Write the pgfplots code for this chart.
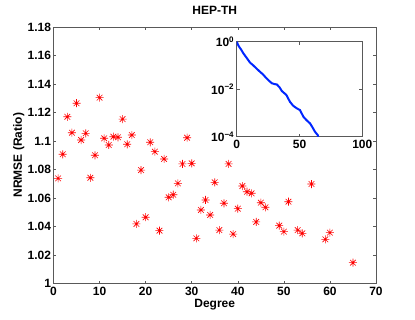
\documentclass[border=0pt]{standalone}
\usepackage{fontspec}
\setmainfont{Liberation Sans}
\usepackage{pgfplots}
\pgfplotsset{compat=1.18}
\pgfdeclareplotmark{mstar}{%
\pgfpathmoveto{\pgfqpoint{-\pgfplotmarksize}{0pt}}\pgfpathlineto{\pgfqpoint{\pgfplotmarksize}{0pt}}%
\pgfpathmoveto{\pgfqpoint{0pt}{-\pgfplotmarksize}}\pgfpathlineto{\pgfqpoint{0pt}{\pgfplotmarksize}}%
\pgfpathmoveto{\pgfqpoint{-0.7071\pgfplotmarksize}{-0.7071\pgfplotmarksize}}\pgfpathlineto{\pgfqpoint{0.7071\pgfplotmarksize}{0.7071\pgfplotmarksize}}%
\pgfpathmoveto{\pgfqpoint{-0.7071\pgfplotmarksize}{0.7071\pgfplotmarksize}}\pgfpathlineto{\pgfqpoint{0.7071\pgfplotmarksize}{-0.7071\pgfplotmarksize}}%
\pgfusepathqstroke}
\pgfplotstableread{
x y
1 1.0738
2 1.0907
3 1.117
4 1.1058
5 1.1265
6 1.1007
7 1.1054
8 1.0742
9 1.090
10 1.1304
11 1.1019
12 1.0972
13 1.103
14 1.1026
15 1.1154
16 1.0977
17 1.1042
18 1.0418
19 1.0796
20 1.0465
21 1.0991
22 1.0925
23 1.0371
24 1.0874
25 1.0605
26 1.0623
27 1.0703
28 1.0839
29 1.1023
30 1.0843
31 1.0317
32 1.0516
33 1.0586
34 1.0481
35 1.071
36 1.0375
37 1.0563
38 1.0839
39 1.0347
40 1.0525
41 1.0684
42 1.0644
43 1.0633
44 1.0432
45 1.0567
46 1.0535
49 1.0406
50 1.0364
51 1.0574
53 1.0375
54 1.0352
56 1.0698
59 1.031
60 1.0357
65 1.0146
}\scatterdata
\pgfplotstableread{
x y
0 1
1 0.759
2 0.603
3.5 0.468
5.3 0.324
7.5 0.224
10.6 0.132
12.8 0.105
15.6 0.0759
18.6 0.0537
20.8 0.0427
23 0.0316
25.2 0.0240
28 0.0178
30 0.0165
32 0.0158
34.1 0.0120
36 0.00832
39.5 0.00575
42.4 0.00295
45 0.00200
47.7 0.00158
50.4 0.00132
53.1 0.000692
55.5 0.000501
58.4 0.000363
60.5 0.000240
62.3 0.000162
64.5 0.000117
65 0.0001
}\curvedata
\begin{document}
\begin{tikzpicture}[font=\fontsize{12}{14}\selectfont\bfseries]
\begin{axis}[
  at={(0pt,0pt)}, anchor=south west, scale only axis,
  width=322.5pt, height=256.5pt,
  xmin=0, xmax=70, ymin=1, ymax=1.18,
  xtick={0,10,20,30,40,50,60,70},
  ytick={1,1.02,1.04,1.06,1.08,1.1,1.12,1.14,1.16,1.18},
  /pgf/number format/assume math mode=true,
  yticklabel style={/pgf/number format/fixed,/pgf/number format/precision=2, xshift=1pt},
  tick label style={font=\fontsize{12}{14}\selectfont\bfseries},
  tick align=inside, major tick length=3pt,
  axis line style={black!65, line width=0.6pt},
  tick style={black!65, line width=0.5pt},
  every axis title shift=0pt,
  title={HEP-TH},
  title style={at={(axis description cs:0.5,1.066)}, anchor=center, font=\fontsize{12}{14}\selectfont\bfseries},
  xlabel={Degree},
  xlabel style={at={(axis description cs:0.5,-0.084)}, anchor=center, font=\fontsize{12}{14}\selectfont\bfseries},
  ylabel={NRMSE (Ratio)},
  ylabel style={at={(axis description cs:-0.108,0.5)}, anchor=center, rotate=0, font=\fontsize{12}{14}\selectfont\bfseries},
]
\addplot[only marks, mark=mstar, mark size=4pt, red, mark options={line width=0.6pt}] table[x=x,y=y] {\scatterdata};
\end{axis}
\begin{axis}[
  at={(183.2pt,146.8pt)}, anchor=south west, scale only axis,
  width=125.6pt, height=95pt,
  ymode=log, xmin=0, xmax=100, ymin=1e-4, ymax=1,
  xtick={0,50,100}, ytick={1e-4,1e-2,1},
  yticklabels={10\textsuperscript{−4},10\textsuperscript{−2},10\textsuperscript{0}},
  yminorticks=false,
  /pgf/number format/assume math mode=true,
  tick label style={font=\fontsize{12}{14}\selectfont\bfseries},
  yticklabel style={xshift=1pt},
  tick align=inside, major tick length=3pt,
  axis line style={black!65, line width=0.6pt},
  tick style={black!65, line width=0.5pt},
  axis background/.style={fill=white},
]
\addplot[blue!85!cyan, line width=2pt] table[x=x,y=y] {\curvedata};
\end{axis}
\pgfresetboundingbox
\path (-53.5pt,-35.5pt) rectangle (361.5pt,283.5pt);
\end{tikzpicture}
\end{document}
